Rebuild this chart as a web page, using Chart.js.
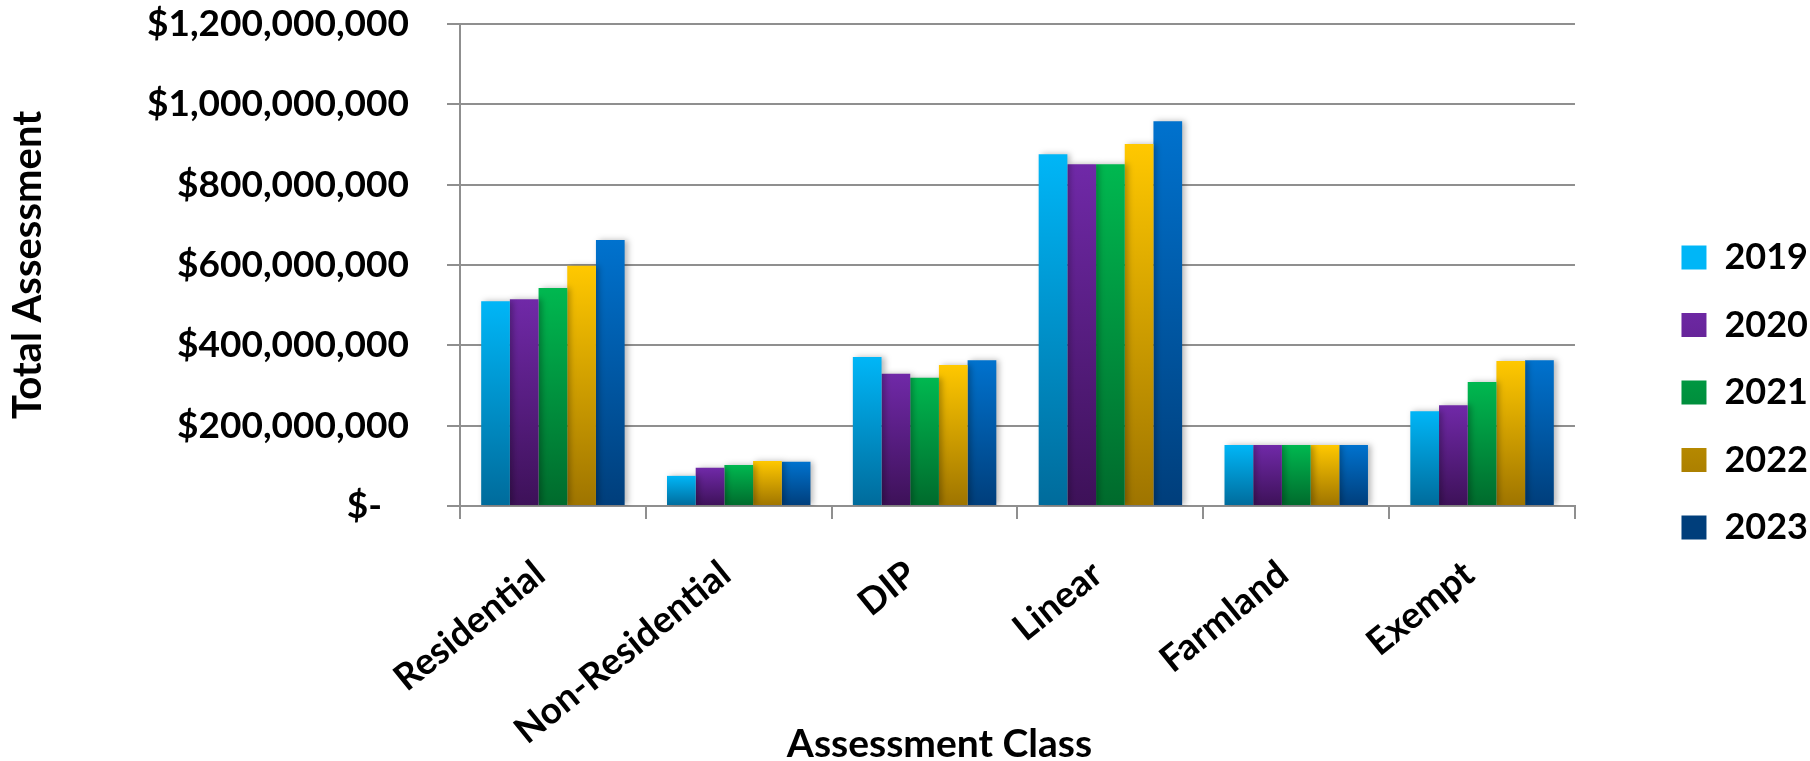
<!DOCTYPE html>
<html>
<head>
<meta charset="utf-8">
<script src="https://cdn.jsdelivr.net/npm/chart.js@4.4.1/dist/chart.umd.min.js"></script>
<style>
  html, body { margin: 0; padding: 0; background: #fff; }
  #wrap { width: 1810px; height: 761px; }
</style>
</head>
<body>
<div id="wrap"><canvas id="myChart"></canvas></div>
<script>
// data
const categories = ['Residential', 'Non-Residential', 'DIP', 'Linear', 'Farmland', 'Exempt'];
const years = ['2019', '2020', '2021', '2022', '2023'];
const values2019 = [510e6, 75e6, 371e6, 876e6, 152e6, 236e6];
const values2020 = [515e6, 95e6, 329e6, 851e6, 152e6, 251e6];
const values2021 = [543e6, 102e6, 319e6, 851e6, 152e6, 309e6];
const values2022 = [598e6, 112e6, 351e6, 901e6, 152e6, 361e6];
const values2023 = [662e6, 110e6, 363e6, 958e6, 152e6, 363e6];
const yMax = 1200e6;
const yStep = 200e6;

const series = [values2019, values2020, values2021, values2022, values2023];

// colours (top -> bottom of each bar)
const topColors = ['#00b6f7', '#7029a8', '#00b850', '#ffc800', '#0072ce'];
const bottomColors = ['#006b9b', '#3d1158', '#006a2c', '#9e7400', '#003e7b'];
const midColors = ['#0090c8', '#561d80', '#00913e', '#d09e00', '#0058a4'];

const gridColor = '#8f8f8f';
const fontFamily = 'Lato, "Open Sans", sans-serif';

function barFill(i) {
    return function(ctx) {
        const chart = ctx.chart;
        if (ctx.type !== 'data' || !chart.chartArea) return midColors[i];
        const y = chart.scales.y;
        const top = y.getPixelForValue(ctx.raw);
        const base = y.getPixelForValue(0);
        const g = chart.ctx.createLinearGradient(0, top, 0, base);
        g.addColorStop(0, topColors[i]);
        g.addColorStop(1, bottomColors[i]);
        return g;
    };
}

function moneyLabel(v) {
    if (v === 0) return '$-   ';
    return '$' + v.toLocaleString('en-US');
}

// soft shadow to the right of the bars
const barShadow = {
    id: 'barShadow',
    beforeDatasetsDraw(chart) {
        const c = chart.ctx;
        c.save();
        c.shadowColor = 'rgba(0,0,0,0.28)';
        c.shadowBlur = 6;
        c.shadowOffsetX = 3;
        c.shadowOffsetY = 0;
    },
    afterDatasetsDraw(chart) {
        chart.ctx.restore();
    }
};

// x axis title sits left of the plot centre in the original
const xTitle = {
    id: 'xTitle',
    afterDraw(chart) {
        const c = chart.ctx;
        const a = chart.chartArea;
        c.save();
        c.font = 'bold 39px ' + fontFamily;
        c.fillStyle = '#000';
        c.textAlign = 'center';
        c.textBaseline = 'alphabetic';
        c.fillText('Assessment Class', (a.left + a.right) / 2 - 78, chart.height - 4);
        c.restore();
    }
};

let datasets = years.map(function(year, i) {
    return {
        label: year,
        data: series[i],
        backgroundColor: barFill(i),
        borderWidth: 0,
        barPercentage: 1.0,
        categoryPercentage: 0.772
    };
});

let config = {
    type: 'bar',
    data: {
        labels: categories,
        datasets: datasets
    },
    options: {
        responsive: true,
        maintainAspectRatio: false,
        animation: false,
        layout: { padding: { top: 24, left: 0, right: -8, bottom: 0 } },
        plugins: {
            tooltip: { enabled: false },
            legend: {
                position: 'right',
                align: 'center',
                labels: {
                    boxWidth: 25,
                    boxHeight: 24,
                    padding: 31.5,
                    color: '#000',
                    font: { family: fontFamily, size: 36, weight: 'bold' }
                }
            }
        },
        scales: {
            x: {
                grid: {
                    display: true,
                    drawOnChartArea: false,
                    drawTicks: true,
                    tickLength: 13,
                    color: gridColor,
                    lineWidth: 2
                },
                border: { display: true, color: gridColor, width: 2 },
                ticks: {
                    autoSkip: false,
                    minRotation: 39,
                    maxRotation: 39,
                    padding: 33,
                    labelOffset: -13,
                    color: '#000',
                    font: { family: fontFamily, size: 37, weight: 'bold' }
                },
                afterFit: function(scale) { scale.height = 255; }
            },
            y: {
                min: 0,
                max: yMax,
                ticks: {
                    stepSize: yStep,
                    padding: 0,
                    color: '#000',
                    font: { family: fontFamily, size: 37, weight: 'bold' },
                    callback: moneyLabel
                },
                grid: {
                    color: gridColor,
                    lineWidth: 2,
                    // long tick so the labels sit clear of the axis, only the last 13px shown
                    tickLength: 51,
                    tickBorderDash: [13, 38],
                    tickBorderDashOffset: 13
                },
                border: { display: true, color: gridColor, width: 2 },
                title: {
                    display: true,
                    text: 'Total Assessment',
                    color: '#000',
                    padding: { top: 4, bottom: 0 },
                    font: { family: fontFamily, size: 40, weight: 'bold' }
                },
                afterFit: function(scale) { scale.width = 460; }
            },
            gap: {
                type: 'linear',
                position: 'right',
                display: true,
                grid: { display: false },
                border: { display: false },
                ticks: { display: false },
                afterFit: function(scale) { scale.width = 75; }
            }
        }
    },
    plugins: [barShadow, xTitle]
};

let myChart = new Chart(document.getElementById('myChart'), config);
</script>
</body>
</html>
